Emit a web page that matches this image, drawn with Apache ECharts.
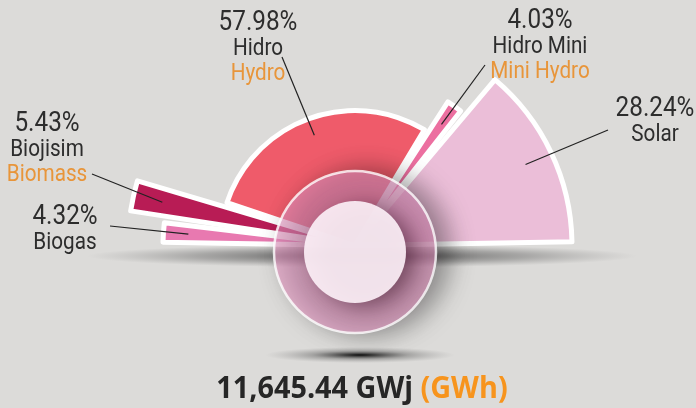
<!DOCTYPE html>
<html>
<head>
<meta charset="utf-8">
<script src="https://cdn.jsdelivr.net/npm/echarts@6/dist/echarts.min.js"></script>
<style>
html, body { margin: 0; padding: 0; background: #dcdbd9; }
#main { width: 696px; height: 408px; }
</style>
</head>
<body>
<div id="main"></div>
<script>
// data (left to right along the half circle)
var namesLocal = ['Biogas', 'Biojisim', 'Hidro', 'Hidro Mini', 'Solar'];
var namesEn = ['', 'Biomass', 'Hydro', 'Mini Hydro', ''];
var shares = [4.32, 5.43, 57.98, 4.03, 28.24];
var totalGWh = 11645.44;

// looks
var colors = ['#e879b0', '#b81c55', '#ef5b6a', '#ec6fa0', '#ebbed8'];
var outerR = [192, 227, 135, 171, 217];
var labelPos = [[65, 231], [47, 138], [258, 37], [540, 35], [655, 123]];
var lineFrom = [[110, 226], [92, 174], [282, 57], [485, 65], [608, 130]];
var cx = 355, cy = 245.5;

var myChart = echarts.init(document.getElementById('main'));

var sum = shares.reduce(function (a, b) { return a + b; });

// one pie per slice so every slice can have its own radius
var series = shares.map(function (v, i) {
    return {
        type: 'pie',
        center: [cx, cy],
        radius: [0, outerR[i]],
        startAngle: 180,
        endAngle: 0,
        padAngle: 2,
        silent: true,
        animation: false,
        label: { show: false },
        labelLine: { show: false },
        data: shares.map(function (vv, j) {
            return {
                value: vv,
                name: namesLocal[j],
                itemStyle: j === i
                    ? { color: colors[j], borderColor: '#fff', borderWidth: 5 }
                    : { color: 'rgba(0,0,0,0)', borderWidth: 0 }
            };
        })
    };
});

var txt = '#2d2d2d', orange = '#e8953a';
var graphic = [];

// shadow band under the half circle
graphic.push({
    type: 'circle', x: 362, y: 256, scaleY: 0.042, z: 0,
    shape: { cx: 0, cy: 0, r: 275 },
    style: {
        fill: new echarts.graphic.RadialGradient(0.5, 0.5, 0.5, [
            { offset: 0, color: 'rgba(40,40,40,0.8)' },
            { offset: 0.6, color: 'rgba(90,90,90,0.4)' },
            { offset: 1, color: 'rgba(120,120,120,0)' }
        ])
    }
});
// shadow under the disc
graphic.push({
    type: 'circle', x: 360, y: 355, scaleY: 0.085, z: 0,
    shape: { cx: 0, cy: 0, r: 95 },
    style: {
        fill: new echarts.graphic.RadialGradient(0.5, 0.5, 0.5, [
            { offset: 0, color: 'rgba(0,0,0,0.95)' },
            { offset: 0.5, color: 'rgba(60,60,60,0.35)' },
            { offset: 1, color: 'rgba(120,120,120,0)' }
        ])
    }
});
// ring + inner disc
graphic.push({
    type: 'circle', z: 100,
    shape: { cx: 355, cy: 252, r: 81 },
    style: {
        fill: 'rgba(232,150,195,0.6)',
        stroke: 'rgba(255,255,255,0.8)',
        lineWidth: 2.5,
        shadowBlur: 25,
        shadowColor: 'rgba(0,0,0,0.6)',
        shadowOffsetX: 12
    }
});
graphic.push({
    type: 'circle', z: 101,
    shape: { cx: 355, cy: 252, r: 51 },
    style: {
        fill: 'rgba(251,238,245,0.93)',
        shadowBlur: 22,
        shadowColor: 'rgba(40,0,20,0.55)',
        shadowOffsetX: 10,
        shadowOffsetY: 4
    }
});

// labels + leader lines
var acc = 0;
shares.forEach(function (v, i) {
    var mid = 180 - (acc + v / 2) / sum * 180;
    acc += v;
    var a = mid * Math.PI / 180;
    var r = outerR[i] * 0.87;
    graphic.push({
        type: 'line', z: 50,
        shape: { x1: lineFrom[i][0], y1: lineFrom[i][1], x2: cx + r * Math.cos(a), y2: cy - r * Math.sin(a) },
        style: { stroke: '#222', lineWidth: 1.2 }
    });
    var lines = [[v.toFixed(2) + '%', 27, txt], [namesLocal[i], 23, txt]];
    if (namesEn[i]) lines.push([namesEn[i], 23, orange]);
    lines.forEach(function (ln, k) {
        graphic.push({
            type: 'text', z: 50,
            x: labelPos[i][0], y: labelPos[i][1] + (k === 0 ? 0 : 24 + (k - 1) * 25),
            scaleX: 0.9,
            style: {
                text: ln[0], x: 0, y: 0,
                fill: ln[2],
                font: ln[1] + 'px Roboto',
                align: 'center', verticalAlign: 'bottom'
            }
        });
    });
});

// total
graphic.push({
    type: 'text', z: 50, x: 362, y: 404, scaleX: 0.96,
    style: {
        text: '{a|' + totalGWh.toLocaleString('en-US', { minimumFractionDigits: 2 }) + ' GWj }{b|(GWh)}',
        x: 0, y: 0, align: 'center', verticalAlign: 'bottom',
        rich: {
            a: { font: 'bold 30px "Open Sans"', fill: '#262626' },
            b: { font: 'bold 30px "Open Sans"', fill: '#f7941d' }
        }
    }
});

var option = {
    backgroundColor: '#dcdbd9',
    animation: false,
    series: series,
    graphic: graphic
};
myChart.setOption(option);
</script>
</body>
</html>
